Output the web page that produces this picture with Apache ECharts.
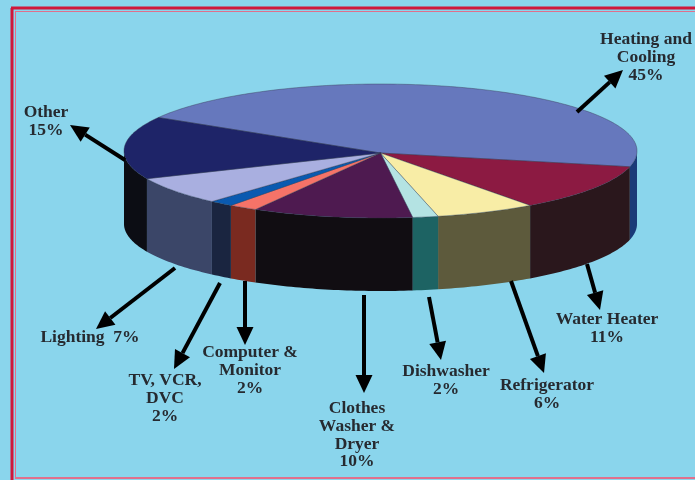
<!DOCTYPE html>
<html>
<head>
<meta charset="utf-8">
<style>html,body{margin:0;padding:0;background:#8ad5ec}#c{width:695px;height:480px}</style>
<script src="https://cdn.jsdelivr.net/npm/echarts@6/dist/echarts.min.js"></script>
</head>
<body>
<div id="c"></div>
<script>
// Data (slice shares, clockwise starting at Heating and Cooling)
const categories = ['Heating and\nCooling', 'Water Heater', 'Refrigerator', 'Dishwasher', 'Clothes\nWasher &\nDryer', 'Computer &\nMonitor', 'TV, VCR,\nDVC', 'Lighting', 'Other'];
const shares = [45.4, 11.3, 6.3, 1.6, 10.1, 1.8, 1.5, 6.8, 15.1];

// Styling
const topColors = ['#6678bd', '#8c1a42', '#f8eda6', '#b4e3e3', '#4e1a50', '#f57368', '#0a5ab0', '#a9afe0', '#1e2468'];
const wallColors = ['#1a3a78', '#2a171c', '#5d5a3c', '#1d6363', '#110d12', '#7a2a20', '#1a2540', '#3b4668', '#0c0d14'];

// Layout: the pie's ellipse, and per-category callout placement
const pie = { cx: 380.5, cy: 151, rx: 256.5, ry: 67, depth: 73, startDeg: 210, apexDy: 2 };
const arrows = [
  [577, 112, 623, 70], [587, 264, 600, 310], [511, 281, 544, 373], [429, 297, 441, 360],
  [364, 295, 364, 393], [245, 281, 245, 345], [220, 283, 174, 369], [175, 268, 96, 329], [125, 160, 70, 125]
];
const labelAnchors = [
  [646, 31], [607, 311], [547, 377], [446, 363], [357, 400], [250, 344], [165, 372], [90, 329], [46, 104]
];
const separators = ['\n', '\n', '\n', '\n', '\n', '\n', '\n', '  ', '\n'];

const total = shares.reduce((a, b) => a + b, 0);
let acc = pie.startDeg;
const spans = shares.map(v => { const a = acc; acc += v / total * 360; return [a, acc]; });

function pt(deg, dy) {
  const r = deg * Math.PI / 180;
  return [pie.cx + pie.rx * Math.cos(r), pie.cy + pie.ry * Math.sin(r) + (dy || 0)];
}
function arcPts(a, b, dy) {
  const out = [];
  const n = Math.max(2, Math.ceil(Math.abs(b - a)));
  for (let i = 0; i <= n; i++) out.push(pt(a + (b - a) * i / n, dy));
  return out;
}
function wallChildren(i) {
  const kids = [];
  [[0, 180], [360, 540]].forEach(w => {
    const a = Math.max(spans[i][0], w[0]), b = Math.min(spans[i][1], w[1]);
    if (b > a) {
      const pts = arcPts(a, b, 0).concat(arcPts(b, a, pie.depth));
      kids.push({ type: 'polygon', shape: { points: pts }, style: { fill: wallColors[i] } });
    }
  });
  return kids;
}
function renderWall(p, api) {
  return { type: 'group', children: wallChildren(api.value(0)) };
}
function renderTop(p, api) {
  const i = api.value(0);
  const pts = [[pie.cx, pie.cy + pie.apexDy]].concat(arcPts(spans[i][0], spans[i][1], 0));
  return { type: 'polygon', shape: { points: pts },
    style: { fill: topColors[i], stroke: 'rgba(50,50,70,0.55)', lineWidth: 0.7, lineJoin: 'round' } };
}
function renderCallout(p, api) {
  const i = api.value(0);
  const [x1, y1, x2, y2] = arrows[i];
  const ang = Math.atan2(y2 - y1, x2 - x1), L = 18, W = 8.5;
  const bx = x2 - L * Math.cos(ang), by = y2 - L * Math.sin(ang);
  const nx = -Math.sin(ang), ny = Math.cos(ang);
  return { type: 'group', children: [
    { type: 'line', shape: { x1, y1, x2: bx, y2: by }, style: { stroke: '#000', lineWidth: 4 } },
    { type: 'polygon', shape: { points: [[x2, y2], [bx + nx * W, by + ny * W], [bx - nx * W, by - ny * W]] }, style: { fill: '#000' } },
    { type: 'text', x: labelAnchors[i][0], y: labelAnchors[i][1], style: {
        text: categories[i] + separators[i] + Math.round(shares[i]) + '%',
        fontFamily: '"Liberation Serif", serif', fontWeight: 'bold', fontSize: 17.5, lineHeight: 17.6,
        fill: '#262a30', align: 'center', verticalAlign: 'top' } }
  ] };
}
const idx = categories.map((_, i) => [i]);
const chart = echarts.init(document.getElementById('c'), null, { renderer: 'canvas' });
chart.setOption({
  animation: false,
  backgroundColor: '#8ad5ec',
  tooltip: { show: false },
  graphic: [
    { type: 'line', z: 1, shape: { x1: 12, y1: 480, x2: 12, y2: 8 }, style: { stroke: '#d0173a', lineWidth: 3 } },
    { type: 'line', z: 1, shape: { x1: 11, y1: 8, x2: 695, y2: 8 }, style: { stroke: '#d0173a', lineWidth: 3 } },
    { type: 'line', z: 1, shape: { x1: 15.5, y1: 478, x2: 15.5, y2: 11.5 }, style: { stroke: '#e0708c', lineWidth: 1 } },
    { type: 'line', z: 1, shape: { x1: 15, y1: 11.5, x2: 695, y2: 11.5 }, style: { stroke: '#e0708c', lineWidth: 1 } },
    { type: 'line', z: 1, shape: { x1: 15, y1: 478, x2: 695, y2: 478 }, style: { stroke: '#e0708c', lineWidth: 2 } }
  ],
  series: [
    { type: 'custom', name: 'walls', coordinateSystem: 'none', data: idx, renderItem: renderWall, silent: true, z: 2 },
    { type: 'custom', name: 'tops', coordinateSystem: 'none', data: idx, renderItem: renderTop, silent: true, z: 3 },
    { type: 'custom', name: 'callouts', coordinateSystem: 'none', data: idx, renderItem: renderCallout, silent: true, z: 4 }
  ]
});
</script>
</body>
</html>
